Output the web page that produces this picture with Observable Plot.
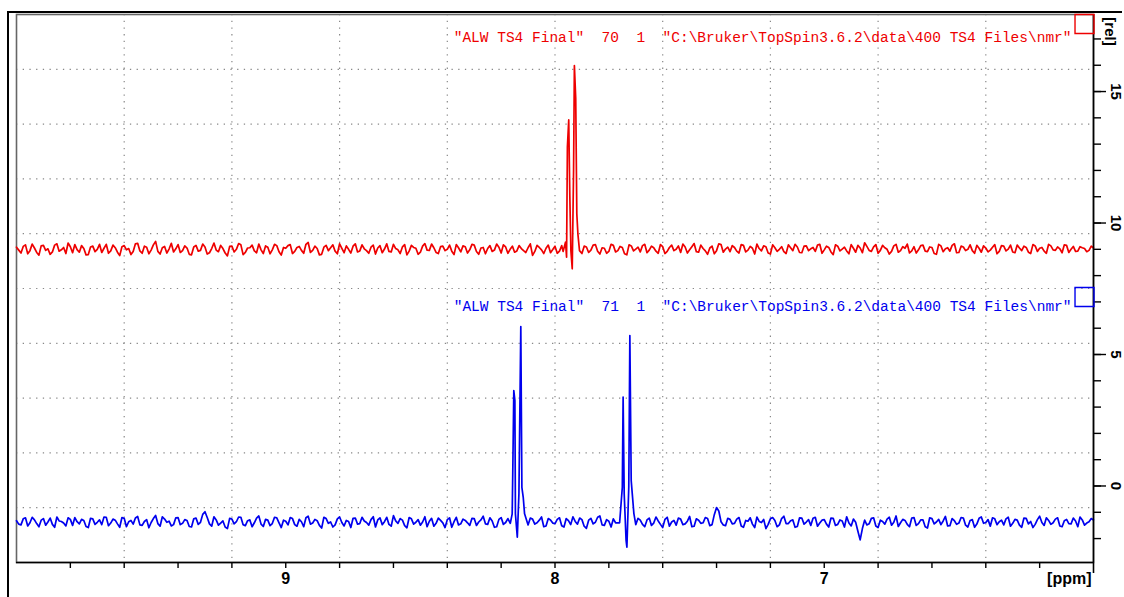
<!DOCTYPE html>
<html><head><meta charset="utf-8">
<script src="https://cdn.jsdelivr.net/npm/d3@7"></script>
<script src="https://cdn.jsdelivr.net/npm/@observablehq/plot@0.6"></script>
<style>
html,body{margin:0;padding:0;background:#fff;}
#wrap{position:relative;width:1124px;height:597px;overflow:hidden;}
#outer{position:absolute;left:7px;top:11px;width:1113px;height:600px;border-top:2px solid #000;border-left:2px solid #000;pointer-events:none;}
svg text{white-space:pre;}
</style></head><body><div id="wrap"><div id="outer"></div></div>
<script>
// ---- data ----
const ppmStart = 10, ppmStep = 1 / 60;   // spectrum sampling (ppm); "Mid" arrays sit half a step later
const xDomain = [10, 6];
const yDomain = [-2.91, 17.93];

const redNoise = [
 9.08, 8.86, 9.17, 8.95, 9.05, 8.78, 9.15, 9.02, 8.90, 9.21, 8.98, 8.84, 9.10, 9.18, 8.89, 9.03, 8.80, 9.12, 9.00, 8.88,
 9.19, 8.94, 9.06, 8.76, 9.14, 9.03, 8.92, 9.23, 8.85, 9.08, 8.97, 9.30, 8.82, 9.11, 9.01, 8.90, 9.18, 8.95, 9.05, 8.79,
 9.15, 8.96, 9.09, 8.87, 9.24, 8.91, 9.03, 8.75, 9.12, 9.00, 9.17, 8.88, 9.06, 8.94, 9.20, 8.84, 9.08, 8.98, 9.14, 8.78,
 9.04, 9.18, 8.92, 9.11, 8.85, 9.26, 8.96, 9.03, 8.81, 9.15, 9.06, 8.93, 9.21, 8.87, 9.00, 9.12, 8.90, 9.17, 8.95, 9.08,
 8.82, 9.14, 9.01, 8.92, 9.19, 8.98, 9.09, 8.79, 9.15, 9.04, 8.89, 9.22, 8.96, 9.06, 8.84, 9.12, 9.00, 8.93, 9.18, 8.90,
 9.10, 8.98, 9.16, 8.81, 9.07, 9.03, 8.92, 9.20, 8.86, 9.09, 9.00, 8.89, 9.14, 8.95, 9.06, 8.77, 9.15, 8.98, 9.04, 8.87,
 9.12, 8.93, 9.00, 9.00, 9.00, 9.00, 8.84, 9.09, 8.97, 9.18, 8.82, 9.04, 8.92, 9.15, 8.95, 9.07, 8.79, 9.13, 9.01, 8.90,
 9.19, 8.97, 9.06, 8.85, 9.10, 8.92, 9.16, 9.00, 8.88, 9.09, 8.98, 9.22, 8.89, 9.03, 8.81, 9.12, 8.95, 9.18, 9.01, 8.91,
 9.07, 8.86, 9.15, 8.97, 9.04, 9.20, 8.94, 9.10, 8.82, 9.06, 9.00, 8.91, 9.17, 8.95, 9.09, 8.87, 9.13, 9.02, 8.92, 9.19,
 8.98, 9.07, 8.80, 9.12, 9.01, 8.94, 9.18, 8.89, 9.05, 9.25, 8.96, 9.09, 8.85, 9.15, 9.00, 8.92, 9.19, 8.95, 9.04, 8.86,
 9.10, 8.98, 9.16, 8.91, 9.07, 8.81, 9.13, 9.02, 8.93, 9.21, 8.88, 9.09, 9.00, 8.95, 9.15, 8.89, 9.05, 8.97, 9.18, 8.92,
 9.12, 9.01, 8.90, 9.16, 8.95, 9.07, 8.84, 9.13, 9.04, 8.93, 9.19, 8.98, 9.09, 8.87, 9.15, 9.00, 8.92, 9.10, 9.03, 8.96,
 9.05
];
const redNoiseMid = [
 8.97, 9.11, 8.83, 9.20, 8.88, 9.13, 8.96, 8.81, 9.16, 8.93, 9.07, 9.24, 8.87, 8.99, 9.14, 8.79, 9.09, 8.91, 9.19, 9.04,
 8.85, 9.16, 8.89, 9.10, 8.98, 8.80, 9.21, 8.94, 9.12, 8.83, 9.17, 8.92, 9.06, 8.86, 9.23, 9.02, 8.88, 9.13, 8.81, 9.09,
 8.93, 9.20, 8.82, 9.03, 8.97, 9.15, 8.86, 9.11, 8.90, 9.22, 8.80, 9.05, 9.16, 8.87, 8.98, 9.13, 8.83, 9.19, 8.91, 9.07,
 9.14, 8.84, 9.07, 8.96, 9.19, 8.88, 9.12, 8.79, 9.08, 8.95, 9.17, 8.83, 9.04, 9.13, 8.86, 9.21, 8.94, 9.02, 8.85, 9.16,
 9.05, 8.87, 9.21, 8.90, 9.03, 8.84, 9.18, 8.93, 9.07, 8.81, 9.12, 8.97, 9.20, 8.88, 9.10, 8.95, 9.16, 8.80, 9.06, 9.13,
 8.86, 9.19, 8.92, 9.05, 8.83, 9.14, 8.97, 9.08, 9.17, 8.85, 9.12, 8.94, 9.03, 8.88, 9.21, 8.92, 9.07, 8.84, 9.16, 8.99,
 8.85, 9.14, 9.00, 9.00, 9.00, 9.00, 9.12, 8.88, 9.16, 8.93, 9.06, 8.85, 9.19, 8.90, 9.11, 8.83, 9.17, 8.94, 9.08, 9.14,
 8.87, 9.12, 8.93, 9.18, 8.84, 9.07, 8.95, 9.13, 9.20, 8.86, 9.10, 8.91, 9.16, 8.94, 9.05, 8.83, 9.21, 8.89, 9.08, 9.14,
 8.93, 9.18, 8.90, 9.11, 8.82, 9.03, 9.13, 8.86, 9.17, 8.92, 9.10, 8.84, 9.06, 9.19, 8.88, 9.12, 8.95, 9.07, 9.16, 8.85,
 9.12, 8.90, 9.17, 8.94, 9.08, 8.83, 9.04, 9.15, 8.87, 9.11, 8.92, 9.18, 8.96, 9.06, 8.82, 9.13, 8.89, 9.10, 9.20, 8.94,
 8.86, 9.14, 8.93, 9.09, 8.84, 9.19, 8.91, 9.06, 9.15, 8.87, 9.12, 8.95, 9.17, 8.85, 9.04, 9.13, 8.90, 9.08, 8.83, 9.14,
 8.94, 9.16, 8.87, 9.05, 9.12, 8.89, 9.18, 8.92, 9.07, 8.85, 9.13, 8.96, 9.02, 9.17, 8.88, 9.11, 8.93, 9.06, 8.91, 9.12
];
const blueNoise = [
 -1.32, -1.48, -1.21, -1.40, -1.29, -1.55, -1.24, -1.37, -1.46, -1.18, -1.35, -1.52, -1.27, -1.20, -1.44, -1.31, -1.58, -1.25, -1.38, -1.47,
 -1.19, -1.41, -1.30, -1.57, -1.23, -1.36, -1.45, -1.16, -1.50, -1.28, -1.39, -1.12, -1.53, -1.26, -1.34, -1.47, -1.20, -1.42, -1.31, -1.56,
 -1.22, -1.38, -0.98, -1.44, -1.17, -1.49, -1.33, -1.62, -1.26, -1.36, -1.19, -1.51, -1.29, -1.40, -1.14, -1.54, -1.30, -1.43, -1.21, -1.58,
 -1.34, -1.20, -1.47, -1.27, -1.55, -1.15, -1.41, -1.32, -1.60, -1.24, -1.37, -1.48, -1.18, -1.52, -1.35, -1.23, -1.45, -1.19, -1.39, -1.28,
 -1.56, -1.21, -1.36, -1.46, -1.13, -1.42, -1.30, -1.59, -1.25, -1.38, -1.49, -1.17, -1.34, -1.53, -1.22, -1.40, -1.28, -1.57, -1.19, -1.44,
 -1.31, -1.50, -1.24, -1.37, -1.15, -1.46, -1.33, -1.55, -1.20, -1.39, -1.35, -1.35, -1.35, -1.35, -1.48, -1.26, -1.40, -1.18, -1.52, -1.29,
 -1.43, -1.21, -1.56, -1.32, -1.17, -1.45, -1.28, -1.61, -1.23, -1.38, -1.14, -1.50, -1.34, -1.25, -1.35, -1.35, -1.35, -1.35, -1.47, -1.30,
 -1.55, -1.22, -1.41, -1.33, -1.58, -1.19, -1.37, -1.49, -1.26, -1.44, -1.16, -1.53, -1.30, -1.40, -1.24, -1.47, -0.82, -1.36, -1.51, -1.27,
 -1.42, -1.20, -1.57, -1.34, -1.45, -1.18, -1.39, -1.62, -1.25, -1.31, -1.48, -1.15, -1.43, -1.29, -1.54, -1.22, -1.37, -1.50, -1.19, -1.41,
 -1.28, -1.56, -1.23, -1.46, -1.33, -1.17, -1.52, -1.38, -2.05, -1.30, -1.44, -1.21, -1.58, -1.35, -1.26, -1.49, -1.14, -1.40, -1.31, -1.55,
 -1.20, -1.43, -1.29, -1.60, -1.24, -1.37, -1.47, -1.16, -1.51, -1.32, -1.41, -1.22, -1.56, -1.28, -1.45, -1.18, -1.39, -1.53, -1.25, -1.36,
 -1.48, -1.19, -1.42, -1.30, -1.57, -1.23, -1.35, -1.46, -1.15, -1.50, -1.31, -1.40, -1.21, -1.55, -1.27, -1.44, -1.33, -1.18, -1.49, -1.36,
 -1.29
];
const blueNoiseMid = [
 -1.45, -1.25, -1.52, -1.19, -1.43, -1.30, -1.49, -1.22, -1.57, -1.33, -1.41, -1.21, -1.50, -1.36, -1.27, -1.54, -1.23, -1.46, -1.29, -1.18,
 -1.51, -1.26, -1.44, -1.20, -1.55, -1.31, -1.22, -1.48, -1.35, -1.59, -1.24, -1.43, -1.17, -1.38, -1.52, -1.21, -1.47, -1.28, -1.54, -1.25,
 -1.46, -1.08, -1.20, -1.53, -1.29, -1.41, -1.56, -1.23, -1.44, -1.18, -1.47, -1.32, -1.55, -1.22, -1.45, -1.27, -1.51, -1.19, -1.40, -1.30,
 -1.48, -1.24, -1.53, -1.36, -1.21, -1.45, -1.27, -1.50, -1.19, -1.42, -1.56, -1.25, -1.39, -1.31, -1.58, -1.22, -1.43, -1.33, -1.49, -1.17,
 -1.29, -1.47, -1.19, -1.53, -1.33, -1.24, -1.51, -1.20, -1.45, -1.28, -1.37, -1.55, -1.23, -1.42, -1.31, -1.58, -1.21, -1.36, -1.48, -1.26,
 -1.40, -1.23, -1.50, -1.29, -1.44, -1.21, -1.57, -1.27, -1.46, -1.24, -1.35, -1.35, -1.35, -1.35, -1.22, -1.45, -1.30, -1.55, -1.24, -1.41,
 -1.27, -1.51, -1.24, -1.47, -1.35, -1.22, -1.53, -1.30, -1.44, -1.19, -1.48, -1.28, -1.56, -1.40, -1.35, -1.35, -1.35, -1.35, -1.23, -1.46,
 -1.29, -1.50, -1.18, -1.46, -1.27, -1.53, -1.31, -1.22, -1.47, -1.34, -1.55, -1.25, -1.42, -1.20, -1.51, -1.09, -0.95, -1.48, -1.23, -1.44,
 -1.26, -1.52, -1.31, -1.21, -1.58, -1.35, -1.27, -1.46, -1.20, -1.55, -1.24, -1.43, -1.32, -1.57, -1.21, -1.45, -1.28, -1.23, -1.53, -1.30,
 -1.45, -1.22, -1.50, -1.29, -1.56, -1.41, -1.26, -1.72, -1.62, -1.48, -1.23, -1.52, -1.30, -1.45, -1.19, -1.38, -1.54, -1.27, -1.46, -1.22,
 -1.50, -1.29, -1.55, -1.21, -1.44, -1.27, -1.33, -1.52, -1.24, -1.46, -1.20, -1.49, -1.31, -1.57, -1.23, -1.42, -1.28, -1.21, -1.47, -1.30,
 -1.25, -1.53, -1.27, -1.49, -1.22, -1.44, -1.58, -1.28, -1.39, -1.21, -1.46, -1.26, -1.52, -1.32, -1.43, -1.22, -1.55, -1.29, -1.41, -1.24
];
const redWindows = [[7.905, 7.975]];
const redPeakPpm = [7.970, 7.961, 7.957, 7.954, 7.949, 7.945, 7.941, 7.936, 7.931, 7.928, 7.923, 7.919, 7.915, 7.909];
const redPeakVal = [8.92, 9.27, 8.70, 12.88, 13.92, 11.05, 8.95, 8.26, 12.0, 15.99, 14.72, 10.35, 9.59, 8.95];

const blueWindows = [[8.105, 8.175], [7.70, 7.77]];
const bluePeakPpm = [8.166, 8.159, 8.157, 8.153, 8.149, 8.147, 8.140, 8.134, 8.127, 8.123, 8.118, 8.113,
                     7.760, 7.750, 7.747, 7.743, 7.736, 7.733, 7.726, 7.722, 7.717, 7.713, 7.707];
const bluePeakVal = [-1.42, -1.06, 0.40, 3.63, 3.25, -1.06, -1.95, -0.30, 6.06, -0.05, -0.43, -1.06,
                     -1.40, -0.05, 3.38, -0.30, -2.07, -2.33, -0.05, 5.72, 0.21, -0.30, -1.05];

const legendTexts = [
 '"ALW TS4 Final"  70  1  "C:\\Bruker\\TopSpin3.6.2\\data\\400 TS4 Files\\nmr"',
 '"ALW TS4 Final"  71  1  "C:\\Bruker\\TopSpin3.6.2\\data\\400 TS4 Files\\nmr"'
];
const xTicks = [9.8, 9.6, 9.4, 9.2, 9.0, 8.8, 8.6, 8.4, 8.2, 8.0, 7.8, 7.6, 7.4, 7.2, 7.0, 6.8, 6.6, 6.4, 6.2];
const xLabels = [9, 8, 7];
const xGrid = [9.6, 9.2, 8.8, 8.4, 8.0, 7.6, 7.2, 6.8, 6.4];
const yTicks = [-2, -1, 0, 1, 2, 3, 4, 5, 6, 7, 8, 9, 10, 11, 12, 13, 14, 15, 16, 17];
const yLabels = [0, 5, 10, 15];
const xUnit = "[ppm]", yUnit = "[rel]";

// ---- build ----
const RED = "#ee0000", BLUE = "#0000ee";
function build(noise, noiseMid, windows, pp, pv) {
  const pts = [];
  const keep = ppm => !windows.some(([a, b]) => ppm > a && ppm < b);
  noise.forEach((v, i) => { const ppm = ppmStart - i * ppmStep; if (keep(ppm)) pts.push({ppm, v}); });
  noiseMid.forEach((v, i) => { const ppm = ppmStart - (i + 0.5) * ppmStep; if (keep(ppm)) pts.push({ppm, v}); });
  pp.forEach((p, i) => pts.push({ppm: p, v: pv[i]}));
  return pts.sort((a, b) => b.ppm - a.ppm);
}
const redPts = build(redNoise, redNoiseMid, redWindows, redPeakPpm, redPeakVal);
const bluePts = build(blueNoise, blueNoiseMid, blueWindows, bluePeakPpm, bluePeakVal);
const yGrid = d3.range(1, 10).map(k => yDomain[0] + k * (yDomain[1] - yDomain[0]) / 10);

const sans = "'Liberation Sans', Arial, sans-serif";
const mono = "'Liberation Mono', 'DejaVu Sans Mono', monospace";

const chart = Plot.plot({
  width: 1124, height: 597,
  marginLeft: 16, marginRight: 31, marginTop: 14, marginBottom: 35,
  style: {fontFamily: sans, background: "transparent", overflow: "visible"},
  x: {domain: xDomain, axis: null},
  y: {domain: yDomain, axis: null},
  marks: [
    Plot.gridX(xGrid, {stroke: "#888", strokeOpacity: 1, strokeWidth: 1.2, strokeDasharray: "1.3,5.4"}),
    Plot.gridY(yGrid, {stroke: "#888", strokeOpacity: 1, strokeWidth: 1.2, strokeDasharray: "1.3,5.4"}),
    Plot.frame({stroke: "#666", strokeWidth: 1.6}),
    Plot.line(redPts, {x: "ppm", y: "v", stroke: RED, strokeWidth: 1.7}),
    Plot.line(bluePts, {x: "ppm", y: "v", stroke: BLUE, strokeWidth: 1.7}),
    Plot.ruleX([xDomain[1]], {stroke: "#000", strokeWidth: 1.6}),
    Plot.ruleY([yDomain[0]], {stroke: "#000", strokeWidth: 1.6}),
    Plot.axisX(xTicks, {anchor: "bottom", label: null, tickSize: 6, tickFormat: () => "", stroke: "#000", strokeWidth: 1.4}),
    Plot.axisX([xDomain[1]], {anchor: "bottom", label: null, tickSize: 11, tickFormat: () => "", stroke: "#000", strokeWidth: 1.6}),
    Plot.axisY(yTicks, {anchor: "right", label: null, tickSize: 7, tickFormat: () => "", stroke: "#000", strokeWidth: 1.4}),
    Plot.axisY(yLabels, {anchor: "right", label: null, tickSize: 12, tickFormat: () => "", stroke: "#000", strokeWidth: 1.4}),
    Plot.text(xLabels, {x: d => d, frameAnchor: "bottom", dy: 21, text: d => String(d), fontSize: 16, fontWeight: "bold", fill: "#000"}),
    Plot.text([xUnit], {frameAnchor: "bottom-right", dx: -2, dy: 21, textAnchor: "end", fontSize: 16, fontWeight: "bold", fill: "#000"}),
    Plot.text(yLabels, {y: d => d, frameAnchor: "right", dx: 22, rotate: 90, textAnchor: "middle", text: d => String(d), fontSize: 15, fontWeight: "bold", fill: "#000"}),
    Plot.text([yUnit], {frameAnchor: "top-right", dx: 22, dy: 17, rotate: 90, textAnchor: "middle", fontSize: 15, fontWeight: "bold", fill: "#000"}),
    Plot.text([legendTexts[0]], {frameAnchor: "top-right", dx: -22, dy: 17, textAnchor: "end", fontFamily: mono, fontSize: 14.5, fill: RED}),
    Plot.text([legendTexts[1]], {frameAnchor: "top-right", dx: -22, dy: 286, textAnchor: "end", fontFamily: mono, fontSize: 14.5, fill: BLUE}),
    Plot.dot([0], {frameAnchor: "top-right", dx: -9, dy: 9.5, symbol: "square", r: 10.7, stroke: RED, strokeWidth: 1.4, fill: "none"}),
    Plot.dot([1], {frameAnchor: "top-right", dx: -9, dy: 282.5, symbol: "square", r: 10.7, stroke: BLUE, strokeWidth: 1.4, fill: "none"})
  ]
});
document.getElementById("wrap").appendChild(chart);
</script></body></html>
